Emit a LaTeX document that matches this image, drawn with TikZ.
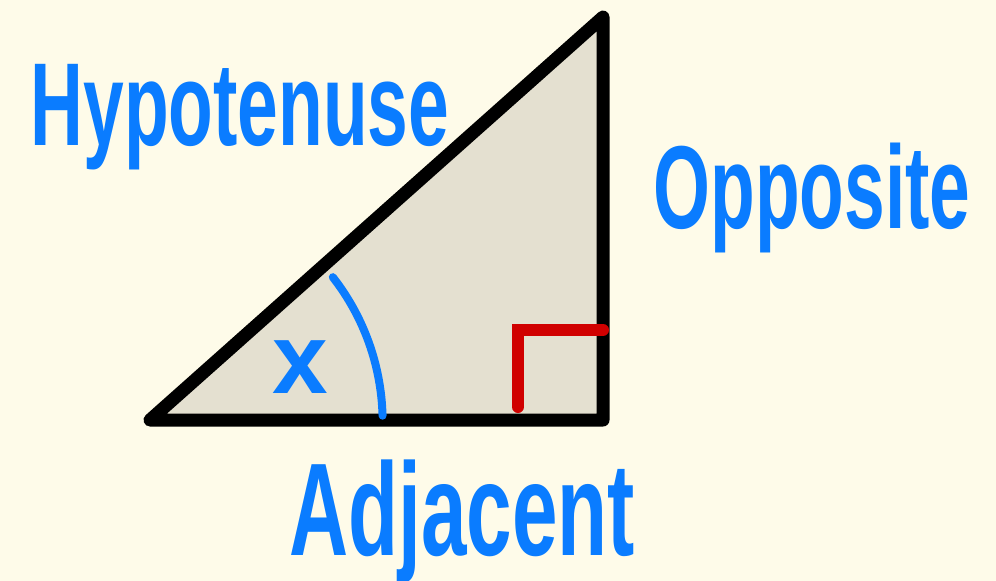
\documentclass[tikz,border=0pt]{standalone}
\usepackage{fontspec}
\usepackage{tikz}
\usetikzlibrary{calc}
\usepackage{xcolor}
\newfontfamily\handfont[FakeStretch=0.62]{Liberation Sans}
\newfontfamily\anglefont{Liberation Sans}
\definecolor{paper}{HTML}{FEFBE9}
\definecolor{trifill}{HTML}{E4E0D0}
\definecolor{penblue}{HTML}{0A7CFF}
\definecolor{penred}{HTML}{D00000}

\begin{document}
\begin{tikzpicture}[
  x=1pt, y=-1pt,
  triedge/.style={
    draw=black,
    fill=trifill,
    line width=13pt,
    line join=round
  },
  anglearc/.style={
    draw=penblue,
    line width=8pt,
    line cap=round
  },
  rightmark/.style={
    draw=penred,
    line width=12pt,
    line cap=round,
    line join=miter
  },
  sidelabel/.style={
    text=penblue,
    inner sep=0pt,
    anchor=base,
    font=\handfont\bfseries\fontsize{118pt}{120pt}\selectfont
  }
]

  % ---------------------------------------------------------------------------
  % Canvas
  % ---------------------------------------------------------------------------
  \fill[paper] (0,0) rectangle (996,581);
  \useasboundingbox (0,0) rectangle (996,581);

  % ---------------------------------------------------------------------------
  % Triangle
  % ---------------------------------------------------------------------------
  \coordinate (base) at (150,420);
  \coordinate (corner) at (603,420);
  \coordinate (apex) at (603,17);
  \path[triedge] (base) -- (corner) -- (apex) -- cycle;

  % Right angle mark
  \coordinate (markfoot) at (518,407);
  \coordinate (markbend) at (518,330);
  \coordinate (markend) at (603,330);
  \path[rightmark] (markfoot) -- (markbend) -- (markend);

  % Angle arc
  \path[anglearc] ($(base) + (-38:232)$) arc[start angle=-38, end angle=-1.5, radius=235];

  % ---------------------------------------------------------------------------
  % Labels
  % ---------------------------------------------------------------------------
  \node[sidelabel] (hyp) at (240,145) {Hypotenuse};
  \node[sidelabel] (opp) at (812,228) {Opposite};
  \node[sidelabel, font=\handfont\bfseries\fontsize{132pt}{134pt}\selectfont] (adj) at (462,555) {Adjacent};
  \node[sidelabel, font=\anglefont\bfseries\fontsize{100pt}{102pt}\selectfont] (ang) at (300,393) {x};

\end{tikzpicture}
\end{document}
